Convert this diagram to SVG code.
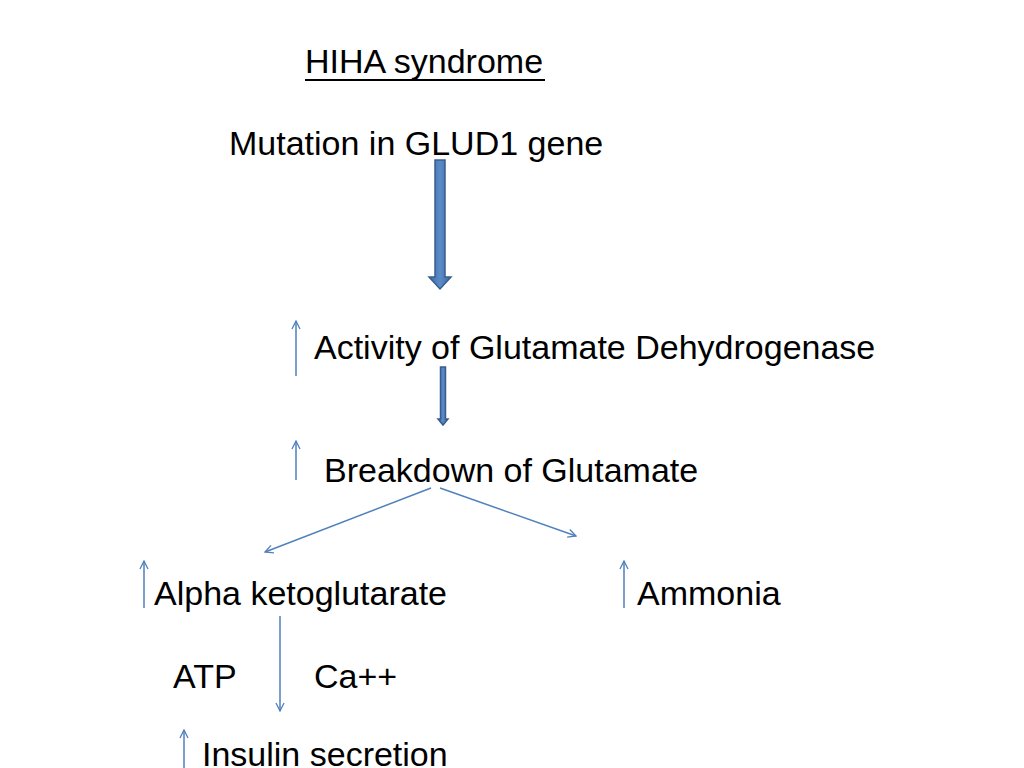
<svg xmlns="http://www.w3.org/2000/svg" width="1024" height="768" viewBox="0 0 1024 768">
<defs>
<style>
text{font-family:"Liberation Sans",Arial,sans-serif;font-size:34px;fill:#000}
.ln{stroke:#4f81bd;stroke-width:1.5;fill:none}
.blk{fill:url(#g);stroke:#385d8a;stroke-width:1.5}
</style>
<linearGradient id="g" x1="0" y1="0" x2="1" y2="0">
<stop offset="0" stop-color="#3c6aa5"/><stop offset="0.5" stop-color="#5b8bc9"/><stop offset="1" stop-color="#3c6aa5"/>
</linearGradient>
<marker id="oa" viewBox="0 0 10 10" refX="9" refY="5" markerWidth="10" markerHeight="10" markerUnits="userSpaceOnUse" orient="auto">
<path d="M1,1 L9,5 L1,9" fill="none" stroke="#4f81bd" stroke-width="1.3"/>
</marker>
</defs>
<rect width="1024" height="768" fill="#fff"/>
<g id="title"><text x="305" y="73">HIHA syndrome</text><line x1="305" y1="80" x2="545" y2="80" stroke="#000" stroke-width="1.8"/></g>
<g id="mutation"><text x="229" y="155">Mutation in GLUD1 gene</text></g>
<g id="activity"><text x="314" y="359">Activity of Glutamate Dehydrogenase</text></g>
<g id="breakdown"><text x="324" y="482">Breakdown of Glutamate</text></g>
<g id="alpha"><text x="154" y="605">Alpha ketoglutarate</text></g>
<g id="ammonia"><text x="637" y="605">Ammonia</text></g>
<g id="atp"><text x="173" y="688">ATP</text></g>
<g id="ca"><text x="314" y="688">Ca++</text></g>
<g id="insulin"><text x="202" y="766">Insulin secretion</text></g>
<g id="connectors">
<path class="blk" d="M435,160 H445 V277 H451 L440,289 L429,277 H435 Z"/>
<path class="blk" d="M440.5,367 H445.5 V419 H448 L443,425 L438,419 H440.5 Z"/>
<line class="ln" x1="296" y1="376" x2="296" y2="321" marker-end="url(#oa)"/>
<line class="ln" x1="296" y1="480" x2="296" y2="441" marker-end="url(#oa)"/>
<line class="ln" x1="144" y1="608" x2="144" y2="561" marker-end="url(#oa)"/>
<line class="ln" x1="624" y1="608" x2="624" y2="561" marker-end="url(#oa)"/>
<line class="ln" x1="184" y1="768" x2="184" y2="730" marker-end="url(#oa)"/>
<line class="ln" x1="431" y1="488" x2="265" y2="552" marker-end="url(#oa)"/>
<line class="ln" x1="440" y1="488" x2="576" y2="536" marker-end="url(#oa)"/>
<line class="ln" x1="280" y1="616" x2="280" y2="711" marker-end="url(#oa)"/>
</g>
</svg>
